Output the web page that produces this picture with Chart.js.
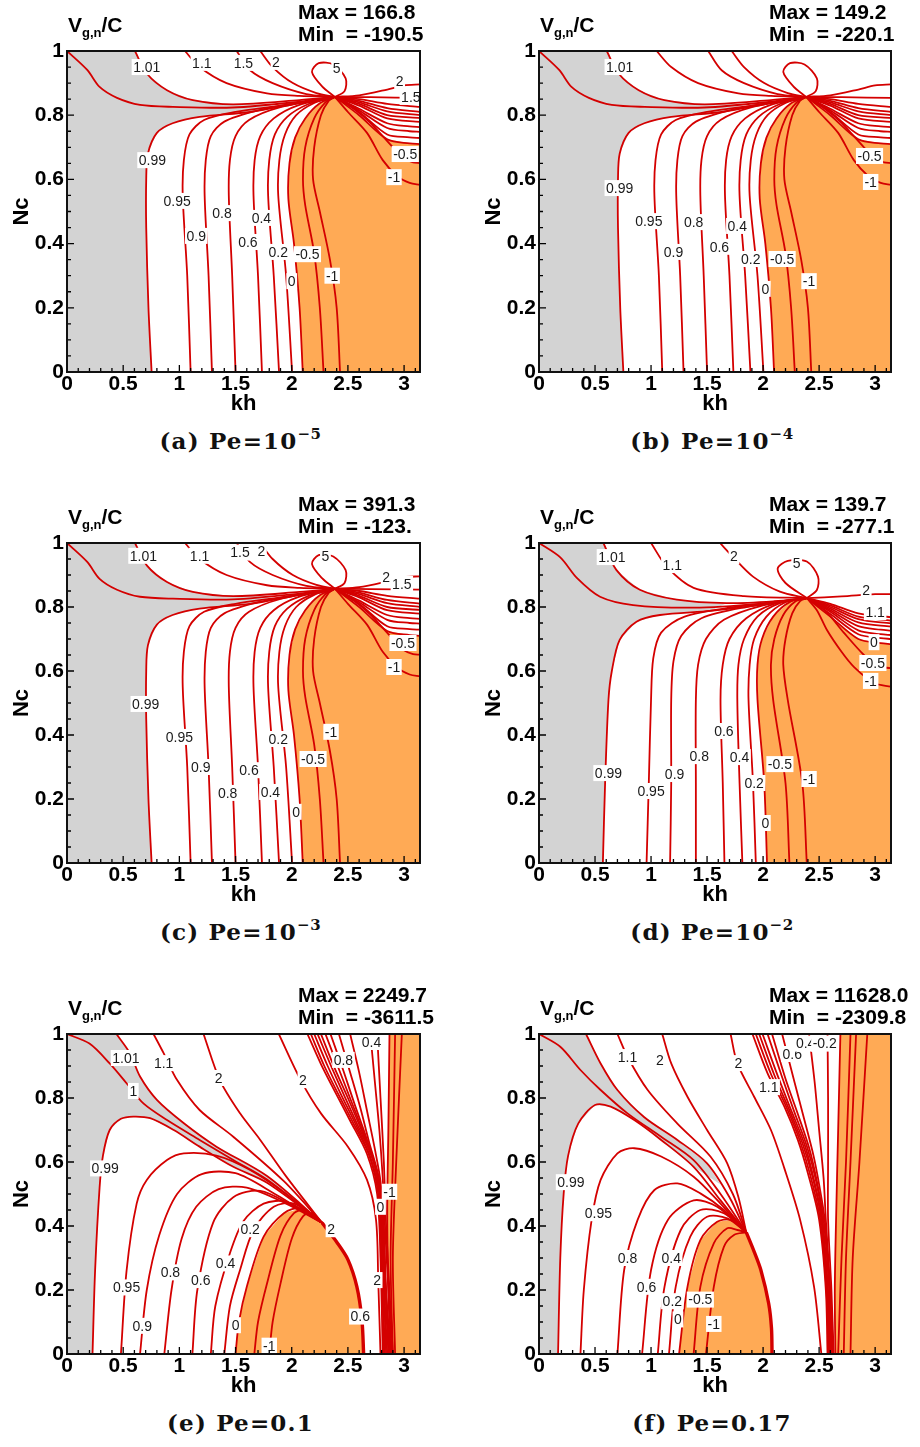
<!DOCTYPE html>
<html>
<head>
<meta charset="utf-8">
<script src="https://cdn.jsdelivr.net/npm/chart.js@4.4.1/dist/chart.umd.min.js"></script>
<style>
html, body { margin: 0; padding: 0; background: #fff; overflow: hidden; }
body { width: 920px; height: 1447px; position: relative; font-family: "Liberation Sans", Arial, sans-serif; }
canvas { position: absolute; }
.hdr { position: absolute; font-weight: bold; font-size: 21px; line-height: 22px; color: #000; white-space: pre; }
.hdr sub { font-size: 13px; vertical-align: -5px; line-height: 0; }
.cap { position: absolute; width: 320px; text-align: center; font-family: "DejaVu Serif", serif; font-weight: bold; font-size: 23px; line-height: 30px; letter-spacing: 1.2px; color: #111; }
.cap sup { font-size: 15px; vertical-align: 10px; line-height: 0; letter-spacing: 0.5px; }
</style>
</head>
<body>
<script>
// axis ticks
const xTicks = [0, 0.5, 1, 1.5, 2, 2.5, 3];
const yTicks = [0, 0.2, 0.4, 0.6, 0.8, 1];

// ---- panels a, b, c share the same contour layout (saddle near kh 2.385, Nc 0.857)
const linesABC = [
    [[0,1],[0.18,0.941],[0.29,0.888],[0.445,0.854],[0.65,0.832],[0.943,0.826],[1.477,0.824],[2.07,0.842],[2.385,0.857]],
    [[0.753,0],[0.725,0.2],[0.705,0.45],[0.705,0.6],[0.72,0.68],[0.80,0.745],[0.94,0.775],[1.18,0.795],[1.63,0.81],[2.07,0.838],[2.385,0.857]],
    [[0.605,1],[0.71,0.93],[0.89,0.878],[1.12,0.847],[1.48,0.834],[2.07,0.847],[2.385,0.857]],
    [[1.05,1],[1.18,0.95],[1.42,0.90],[1.78,0.868],[2.07,0.86],[2.385,0.857]],
    [[1.51,1],[1.63,0.94],[1.83,0.90],[2.13,0.866],[2.385,0.857]],
    [[1.72,1],[1.83,0.95],[2.01,0.90],[2.22,0.869],[2.385,0.857]],
    [[2.385,0.857],[2.27,0.89],[2.18,0.935],[2.24,0.962],[2.37,0.958],[2.48,0.915],[2.47,0.875],[2.385,0.857]],
    [[2.385,0.857],[2.6,0.862],[2.85,0.88],[3.0,0.893],[3.1416,0.896]],
    [[2.385,0.857],[2.7,0.856],[3.1416,0.854]],
    [[2.385,0.857],[2.6,0.85],[2.85,0.835],[3.1416,0.826]],
    [[2.385,0.857],[2.6,0.845],[2.85,0.822],[3.1416,0.81]],
    [[2.385,0.857],[2.6,0.84],[2.85,0.812],[3.1416,0.80]],
    [[2.385,0.857],[2.6,0.835],[2.85,0.80],[3.1416,0.791]],
    [[2.385,0.857],[2.6,0.83],[2.85,0.79],[3.1416,0.779]],
    [[2.385,0.857],[2.6,0.82],[2.85,0.775],[3.05,0.765],[3.1416,0.763]],
    [[2.385,0.857],[2.6,0.815],[2.85,0.76],[3.05,0.75],[3.1416,0.748]],
    [[2.385,0.857],[2.6,0.81],[2.85,0.74],[3.05,0.731],[3.1416,0.729]],
    [[2.385,0.857],[2.6,0.80],[2.85,0.725],[3.05,0.712],[3.1416,0.71]],
    [[2.385,0.857],[2.55,0.82],[2.70,0.776],[2.90,0.70],[3.0,0.665],[3.08,0.653],[3.1416,0.651]],
    [[2.385,0.857],[2.5,0.81],[2.67,0.745],[2.81,0.66],[2.94,0.61],[3.05,0.589],[3.1416,0.583]],
    [[1.10,0],[1.07,0.3],[1.03,0.55],[1.04,0.66],[1.09,0.74],[1.22,0.785],[1.5,0.81],[1.9,0.83],[2.385,0.857]],
    [[1.29,0],[1.26,0.3],[1.225,0.55],[1.235,0.66],[1.28,0.735],[1.4,0.78],[1.7,0.815],[2.05,0.838],[2.385,0.857]],
    [[1.50,0],[1.47,0.3],[1.44,0.55],[1.45,0.66],[1.5,0.735],[1.62,0.785],[1.9,0.825],[2.385,0.857]],
    [[1.735,0],[1.70,0.3],[1.66,0.55],[1.67,0.66],[1.72,0.735],[1.84,0.79],[2.05,0.83],[2.385,0.857]],
    [[1.887,0],[1.84,0.3],[1.79,0.55],[1.80,0.66],[1.85,0.74],[1.96,0.795],[2.15,0.835],[2.385,0.857]],
    [[2.003,0],[1.95,0.3],[1.88,0.55],[1.89,0.66],[1.94,0.74],[2.04,0.80],[2.2,0.838],[2.385,0.857]],
    [[2.098,0],[2.07,0.2],[2.02,0.4],[1.97,0.54],[1.98,0.65],[2.03,0.73],[2.12,0.79],[2.25,0.837],[2.385,0.857]],
    [[2.283,0],[2.25,0.2],[2.20,0.37],[2.12,0.52],[2.10,0.6],[2.12,0.7],[2.2,0.79],[2.3,0.84],[2.385,0.857]],
    [[2.43,0],[2.40,0.2],[2.34,0.35],[2.25,0.5],[2.19,0.6],[2.2,0.7],[2.26,0.8],[2.33,0.845],[2.385,0.857]]
];
const grayABC = [[0,0],[0,1],[0.605,1],[0.71,0.93],[0.89,0.878],[1.12,0.847],[1.48,0.834],[1.85,0.835],[1.63,0.81],[1.18,0.795],[0.94,0.775],[0.80,0.745],[0.72,0.68],[0.705,0.6],[0.705,0.45],[0.725,0.2],[0.753,0]];
const orangeABC = [[2.098,0],[2.07,0.2],[2.02,0.4],[1.97,0.54],[1.98,0.65],[2.03,0.73],[2.12,0.79],[2.25,0.837],[2.385,0.857],[2.6,0.80],[2.85,0.725],[3.05,0.712],[3.1416,0.71],[3.1416,0]];

const labelsA = [['1.01',0.71,0.95],['1.1',1.20,0.963],['1.5',1.57,0.963],['2',1.86,0.966],['5',2.40,0.947],['2',2.96,0.907],['1.5',3.06,0.857],['-0.5',3.01,0.679],['-1',2.91,0.607],['0.99',0.76,0.66],['0.95',0.98,0.533],['0.8',1.38,0.495],['0.4',1.73,0.48],['0.9',1.15,0.424],['0.6',1.61,0.405],['0.2',1.88,0.374],['-0.5',2.14,0.367],['0',2.0,0.283],['-1',2.36,0.30]];
const labelsB = [['1.01',0.72,0.95],['0.99',0.72,0.573],['0.95',0.98,0.47],['0.8',1.38,0.467],['0.4',1.77,0.455],['0.9',1.20,0.374],['0.6',1.61,0.39],['0.2',1.89,0.352],['-0.5',2.17,0.352],['0',2.02,0.259],['-1',2.41,0.283],['-0.5',2.95,0.673],['-1',2.96,0.592]];
const labelsC = [['1.01',0.68,0.96],['1.1',1.18,0.96],['1.5',1.54,0.97],['2',1.73,0.975],['5',2.30,0.96],['2',2.84,0.894],['1.5',2.98,0.872],['-0.5',2.99,0.6875],['-1',2.91,0.6125],['0.99',0.70,0.497],['0.95',1.0,0.394],['0.9',1.19,0.30],['0.6',1.62,0.29],['0.2',1.88,0.3875],['-1',2.35,0.41],['-0.5',2.19,0.325],['0.8',1.43,0.219],['0.4',1.81,0.222],['0',2.04,0.16]];

// ---- panel d (saddle near kh 2.39, Nc 0.828)
const linesD = [
    [[0,1],[0.19,0.955],[0.34,0.89],[0.545,0.832],[0.84,0.806],[1.38,0.798],[1.97,0.81],[2.39,0.828]],
    [[0.57,0],[0.59,0.25],[0.62,0.51],[0.65,0.6],[0.72,0.697],[0.87,0.754],[1.08,0.775],[1.53,0.788],[1.97,0.806],[2.39,0.828]],
    [[0.575,1],[0.69,0.916],[0.90,0.854],[1.23,0.823],[1.675,0.812],[2.1,0.818],[2.39,0.828]],
    [[1.0,1],[1.14,0.926],[1.38,0.86],[1.83,0.834],[2.39,0.828]],
    [[1.615,1],[1.73,0.957],[1.91,0.895],[2.15,0.848],[2.39,0.828]],
    [[2.39,0.828],[2.2,0.875],[2.13,0.92],[2.22,0.944],[2.39,0.942],[2.49,0.895],[2.48,0.853],[2.39,0.828]],
    [[2.39,0.828],[2.7,0.833],[3.0,0.84],[3.1416,0.84]],
    [[2.39,0.828],[2.6,0.81],[2.85,0.78],[3.1416,0.768]],
    [[2.39,0.828],[2.6,0.805],[2.85,0.77],[3.1416,0.757]],
    [[2.39,0.828],[2.6,0.80],[2.85,0.762],[3.1416,0.749]],
    [[2.39,0.828],[2.6,0.795],[2.85,0.752],[3.1416,0.739]],
    [[2.39,0.828],[2.6,0.79],[2.85,0.74],[3.05,0.729],[3.1416,0.726]],
    [[2.39,0.828],[2.6,0.785],[2.85,0.727],[3.05,0.715],[3.1416,0.7125]],
    [[2.39,0.828],[2.6,0.778],[2.85,0.715],[3.05,0.703],[3.1416,0.70]],
    [[2.39,0.828],[2.6,0.77],[2.85,0.70],[3.05,0.687],[3.1416,0.684]],
    [[2.39,0.828],[2.55,0.79],[2.72,0.72],[2.90,0.65],[3.02,0.615],[3.1416,0.609]],
    [[2.39,0.828],[2.48,0.79],[2.57,0.728],[2.70,0.66],[2.81,0.613],[2.99,0.5625],[3.1416,0.551]],
    [[0.96,0],[0.98,0.25],[1.0,0.51],[1.02,0.64],[1.09,0.72],[1.3,0.77],[1.75,0.80],[2.1,0.815],[2.39,0.828]],
    [[1.17,0],[1.18,0.25],[1.18,0.51],[1.2,0.63],[1.27,0.71],[1.45,0.765],[1.85,0.80],[2.39,0.828]],
    [[1.40,0],[1.40,0.25],[1.40,0.51],[1.42,0.62],[1.49,0.70],[1.65,0.76],[2.0,0.805],[2.39,0.828]],
    [[1.655,0],[1.64,0.25],[1.62,0.51],[1.64,0.62],[1.7,0.70],[1.85,0.765],[2.1,0.81],[2.39,0.828]],
    [[1.815,0],[1.79,0.25],[1.77,0.51],[1.78,0.62],[1.83,0.70],[1.95,0.77],[2.15,0.812],[2.39,0.828]],
    [[1.935,0],[1.91,0.25],[1.87,0.51],[1.88,0.62],[1.92,0.70],[2.03,0.77],[2.2,0.815],[2.39,0.828]],
    [[2.035,0],[2.01,0.25],[1.95,0.51],[1.95,0.62],[1.99,0.70],[2.09,0.77],[2.24,0.816],[2.39,0.828]],
    [[2.235,0],[2.2,0.25],[2.09,0.51],[2.07,0.62],[2.1,0.70],[2.18,0.775],[2.29,0.818],[2.39,0.828]],
    [[2.39,0],[2.35,0.25],[2.22,0.51],[2.18,0.62],[2.2,0.70],[2.26,0.78],[2.33,0.818],[2.39,0.828]]
];
const grayD = [[0,0],[0,1],[0.575,1],[0.69,0.916],[0.90,0.854],[1.23,0.823],[1.675,0.812],[1.53,0.788],[1.08,0.775],[0.87,0.754],[0.72,0.697],[0.65,0.6],[0.62,0.51],[0.59,0.25],[0.57,0]];
const orangeD = [[2.035,0],[2.01,0.25],[1.95,0.51],[1.95,0.62],[1.99,0.70],[2.09,0.77],[2.24,0.816],[2.39,0.828],[2.6,0.77],[2.85,0.70],[3.05,0.687],[3.1416,0.684],[3.1416,0]];
const labelsD = [['1.01',0.65,0.956],['1.1',1.19,0.931],['2',1.74,0.959],['5',2.30,0.9375],['2',2.92,0.853],['1.1',3.0,0.784],['0',2.99,0.69],['-0.5',2.98,0.625],['-1',2.96,0.569],['0.6',1.65,0.4125],['0.8',1.43,0.334],['0.4',1.79,0.331],['-0.5',2.15,0.309],['0.9',1.21,0.278],['-1',2.41,0.2625],['0.99',0.62,0.281],['0.2',1.92,0.25],['0.95',1.0,0.225],['0',2.02,0.125]];

// ---- panel e (convergence near kh 2.27, Nc 0.41)
const linesE = [
    [[0,1],[0.2,0.97],[0.38,0.908],[0.53,0.846],[0.68,0.783],[0.89,0.731],[1.18,0.669],[1.48,0.606],[1.78,0.545],[2.27,0.41]],
    [[0.44,1],[0.56,0.94],[0.65,0.867],[0.80,0.794],[1.04,0.721],[1.33,0.648],[1.78,0.556],[2.27,0.41]],
    [[0.227,0],[0.25,0.26],[0.29,0.52],[0.32,0.62],[0.38,0.70],[0.48,0.735],[0.59,0.742],[0.74,0.737],[0.95,0.70],[1.18,0.648],[1.48,0.585],[1.78,0.535],[2.27,0.41]],
    [[0.77,1],[0.86,0.94],[0.98,0.856],[1.18,0.7625],[1.48,0.679],[1.93,0.54],[2.27,0.41]],
    [[1.215,1],[1.36,0.856],[1.54,0.752],[1.72,0.669],[1.95,0.555],[2.27,0.41]],
    [[0.48,0],[0.53,0.26],[0.62,0.47],[0.71,0.544],[0.89,0.606],[1.04,0.627],[1.33,0.62],[1.63,0.575],[1.95,0.5],[2.27,0.41]],
    [[0.65,0],[0.71,0.2],[0.82,0.37],[0.98,0.5],[1.2,0.562],[1.5,0.565],[1.85,0.5],[2.27,0.41]],
    [[0.866,0],[0.93,0.2],[1.02,0.36],[1.15,0.46],[1.35,0.515],[1.6,0.52],[1.95,0.47],[2.27,0.41]],
    [[1.116,0],[1.16,0.2],[1.30,0.41],[1.48,0.49],[1.72,0.51],[2.0,0.465],[2.27,0.41]],
    [[1.28,0],[1.32,0.15],[1.45,0.315],[1.57,0.415],[1.75,0.47],[1.96,0.475],[2.27,0.41]],
    [[1.40,0],[1.45,0.15],[1.54,0.2625],[1.66,0.3875],[1.84,0.46],[2.02,0.47],[2.27,0.41]],
    [[1.50,0],[1.53,0.1],[1.60,0.21],[1.75,0.367],[1.93,0.44],[2.08,0.455],[2.27,0.41]],
    [[1.667,0],[1.70,0.1],[1.78,0.22],[1.90,0.37],[2.02,0.44],[2.12,0.45],[2.27,0.41]],
    [[1.80,0],[1.83,0.1],[1.90,0.22],[2.0,0.36],[2.1,0.43],[2.18,0.44],[2.27,0.41]],
    [[1.885,1],[2.08,0.856],[2.26,0.752],[2.50,0.648],[2.67,0.544],[2.75,0.42],[2.77,0.23],[2.79,0]],
    [[2.14,1],[2.26,0.906],[2.38,0.823],[2.52,0.729],[2.67,0.625],[2.76,0.5],[2.79,0.3],[2.81,0]],
    [[2.17,1],[2.29,0.9],[2.41,0.815],[2.55,0.72],[2.69,0.62],[2.77,0.5],[2.80,0.3],[2.82,0]],
    [[2.20,1],[2.32,0.9],[2.44,0.81],[2.58,0.71],[2.70,0.615],[2.78,0.5],[2.80,0.3],[2.83,0]],
    [[2.23,1],[2.35,0.9],[2.47,0.805],[2.60,0.705],[2.72,0.61],[2.785,0.5],[2.81,0.3],[2.84,0]],
    [[2.26,1],[2.38,0.895],[2.50,0.8],[2.62,0.70],[2.73,0.6],[2.79,0.5],[2.81,0.3],[2.85,0]],
    [[2.30,1],[2.42,0.89],[2.53,0.79],[2.64,0.69],[2.74,0.59],[2.795,0.5],[2.82,0.3],[2.86,0]],
    [[2.345,1],[2.46,0.885],[2.56,0.78],[2.66,0.68],[2.75,0.58],[2.80,0.5],[2.82,0.3],[2.87,0]],
    [[2.42,1],[2.52,0.88],[2.61,0.77],[2.69,0.66],[2.77,0.56],[2.81,0.45],[2.83,0.25],[2.87,0]],
    [[2.52,1],[2.60,0.88],[2.67,0.76],[2.74,0.64],[2.79,0.54],[2.82,0.4],[2.84,0.2],[2.88,0]],
    [[2.70,1],[2.74,0.85],[2.78,0.7],[2.81,0.55],[2.83,0.4],[2.86,0.2],[2.89,0]],
    [[2.76,1],[2.79,0.8],[2.82,0.6],[2.84,0.4],[2.87,0.2],[2.90,0]],
    [[2.87,1],[2.86,0.7],[2.85,0.45],[2.86,0.2],[2.88,0]],
    [[2.92,1],[2.90,0.6],[2.88,0.3],[2.90,0]],
    [[2.98,1],[2.93,0.6],[2.90,0.3],[2.92,0]]
];
const thickE = [[2.27,0.41],[2.40,0.35],[2.50,0.295],[2.58,0.21],[2.625,0.106],[2.64,0]];
const grayE = [[0,0],[0,1],[0.44,1],[0.56,0.94],[0.65,0.867],[0.80,0.794],[1.04,0.721],[1.33,0.648],[1.78,0.556],[2.0,0.49],[1.78,0.535],[1.48,0.585],[1.18,0.648],[0.95,0.70],[0.74,0.737],[0.59,0.742],[0.48,0.735],[0.38,0.70],[0.32,0.62],[0.29,0.52],[0.25,0.26],[0.227,0]];
const orangeE1 = [[1.50,0],[1.53,0.1],[1.60,0.21],[1.75,0.367],[1.93,0.44],[2.08,0.455],[2.2,0.43],[2.27,0.41],[2.40,0.35],[2.50,0.295],[2.58,0.21],[2.625,0.106],[2.64,0]];
const orangeE2 = [[2.87,1],[2.86,0.7],[2.85,0.45],[2.86,0.2],[2.88,0],[3.1416,0],[3.1416,1]];
const labelsE = [['1.01',0.524,0.925],['1.1',0.86,0.909],['2',1.35,0.8625],['2',2.10,0.856],['0.8',2.46,0.919],['0.4',2.71,0.975],['1',0.59,0.822],['0.99',0.34,0.58],['0.2',1.63,0.39],['2',2.35,0.39],['-1',2.87,0.507],['0',2.79,0.46],['0.4',1.41,0.283],['0.8',0.92,0.255],['0.6',1.19,0.231],['2',2.76,0.231],['0.95',0.53,0.208],['0.6',2.61,0.117],['0.9',0.67,0.088],['0',1.50,0.09],['-1',1.80,0.026]];

// ---- panel f (convergence near kh 1.85, Nc 0.38)
const linesF = [
    [[0,1],[0.19,0.96],[0.37,0.8875],[0.55,0.825],[0.79,0.752],[1.09,0.679],[1.38,0.606],[1.62,0.5],[1.85,0.38]],
    [[0.42,1],[0.55,0.908],[0.70,0.825],[0.94,0.74],[1.235,0.669],[1.50,0.596],[1.70,0.49],[1.85,0.38]],
    [[0.17,0],[0.19,0.3],[0.22,0.5],[0.26,0.62],[0.35,0.72],[0.50,0.778],[0.64,0.773],[0.85,0.731],[1.09,0.669],[1.38,0.585],[1.62,0.48],[1.85,0.38]],
    [[0.70,1],[0.79,0.929],[0.97,0.825],[1.235,0.72],[1.53,0.617],[1.73,0.5],[1.85,0.38]],
    [[1.10,1],[1.18,0.908],[1.325,0.804],[1.50,0.70],[1.68,0.596],[1.78,0.49],[1.85,0.38]],
    [[0.37,0],[0.40,0.2],[0.47,0.42],[0.55,0.544],[0.70,0.627],[0.85,0.643],[1.09,0.617],[1.38,0.554],[1.62,0.47],[1.85,0.38]],
    [[0.70,0],[0.76,0.2625],[0.88,0.419],[1.03,0.5125],[1.235,0.533],[1.44,0.502],[1.65,0.45],[1.85,0.38]],
    [[0.92,0],[1.0,0.2625],[1.15,0.419],[1.38,0.48],[1.59,0.46],[1.85,0.38]],
    [[1.06,0],[1.12,0.21],[1.265,0.3875],[1.44,0.45],[1.65,0.44],[1.85,0.38]],
    [[1.16,0],[1.22,0.21],[1.35,0.367],[1.50,0.429],[1.68,0.424],[1.85,0.38]],
    [[1.25,0],[1.325,0.21],[1.44,0.356],[1.59,0.413],[1.71,0.419],[1.85,0.38]],
    [[1.38,0],[1.44,0.21],[1.56,0.346],[1.68,0.393],[1.77,0.3875],[1.85,0.38]],
    [[1.49,0],[1.56,0.21],[1.65,0.335],[1.74,0.372],[1.85,0.38]],
    [[1.71,1],[1.77,0.908],[1.92,0.804],[2.07,0.70],[2.19,0.58],[2.33,0.42],[2.455,0.21],[2.52,0]],
    [[1.905,1],[2.04,0.877],[2.19,0.773],[2.31,0.669],[2.40,0.565],[2.50,0.42],[2.56,0.2],[2.575,0]],
    [[1.935,1],[2.07,0.875],[2.21,0.77],[2.33,0.665],[2.42,0.56],[2.51,0.42],[2.565,0.2],[2.585,0]],
    [[1.965,1],[2.10,0.872],[2.23,0.766],[2.35,0.66],[2.44,0.555],[2.52,0.42],[2.57,0.2],[2.595,0]],
    [[1.995,1],[2.13,0.87],[2.25,0.762],[2.37,0.655],[2.45,0.55],[2.525,0.42],[2.575,0.2],[2.605,0]],
    [[2.04,1],[2.17,0.865],[2.28,0.755],[2.39,0.65],[2.47,0.545],[2.53,0.42],[2.58,0.2],[2.61,0]],
    [[2.08,1],[2.20,0.86],[2.31,0.75],[2.41,0.645],[2.48,0.54],[2.54,0.42],[2.59,0.2],[2.615,0]],
    [[2.17,1],[2.28,0.85],[2.37,0.73],[2.45,0.62],[2.50,0.53],[2.55,0.42],[2.595,0.2],[2.62,0]],
    [[2.41,1],[2.46,0.85],[2.50,0.7],[2.54,0.55],[2.56,0.42],[2.60,0.2],[2.625,0]],
    [[2.575,1],[2.58,0.8],[2.58,0.6],[2.58,0.42],[2.61,0.2],[2.63,0]],
    [[2.69,1],[2.67,0.7],[2.65,0.4],[2.64,0.2],[2.645,0]],
    [[2.78,1],[2.74,0.6],[2.70,0.3],[2.67,0]],
    [[2.83,1],[2.78,0.6],[2.74,0.3],[2.72,0]],
    [[2.93,1],[2.86,0.6],[2.80,0.3],[2.78,0]]
];
const thickF = [[1.85,0.38],[1.92,0.32],[1.98,0.2625],[2.05,0.158],[2.075,0.08],[2.08,0]];
const grayF = [[0,0],[0,1],[0.42,1],[0.55,0.908],[0.70,0.825],[0.94,0.74],[1.235,0.669],[1.50,0.596],[1.62,0.53],[1.38,0.585],[1.09,0.669],[0.85,0.731],[0.64,0.773],[0.50,0.778],[0.35,0.72],[0.26,0.62],[0.22,0.5],[0.19,0.3],[0.17,0]];
const orangeF1 = [[1.25,0],[1.325,0.21],[1.44,0.356],[1.59,0.413],[1.71,0.419],[1.85,0.38],[1.92,0.32],[1.98,0.2625],[2.05,0.158],[2.075,0.08],[2.08,0]];
const orangeF2 = [[2.69,1],[2.67,0.7],[2.65,0.4],[2.64,0.2],[2.645,0],[3.1416,0],[3.1416,1]];
const labelsF = [['1.1',0.79,0.928],['2',1.08,0.919],['2',1.78,0.909],['1.1',2.05,0.834],['0.6',2.26,0.9375],['0.4',2.38,0.97],['-0.2',2.55,0.97],['0.99',0.285,0.537],['0.95',0.53,0.44],['0.8',0.79,0.30],['0.6',0.96,0.21],['0.4',1.18,0.30],['0.2',1.19,0.165],['-0.5',1.44,0.17],['0',1.24,0.108],['-1',1.56,0.094]];

const RED = '#d40000';
const GRAY = '#d3d3d3';
const ORANGE = '#ffaa55';
const FONT = '"Liberation Sans", Arial, sans-serif';

const panels = [
    { rect: [67, 51, 420, 372], lines: linesABC, thick: [], gray: grayABC, orange: [orangeABC], labels: labelsA, max: '166.8', min: '-190.5', cap: '(a) Pe=10<sup>−5</sup>' },
    { rect: [539, 51, 891, 372], lines: linesABC, thick: [], gray: grayABC, orange: [orangeABC], labels: labelsB, max: '149.2', min: '-220.1', cap: '(b) Pe=10<sup>−4</sup>' },
    { rect: [67, 543, 420, 863], lines: linesABC, thick: [], gray: grayABC, orange: [orangeABC], labels: labelsC, max: '391.3', min: '-123.', cap: '(c) Pe=10<sup>−3</sup>' },
    { rect: [539, 543, 891, 863], lines: linesD, thick: [], gray: grayD, orange: [orangeD], labels: labelsD, max: '139.7', min: '-277.1', cap: '(d) Pe=10<sup>−2</sup>' },
    { rect: [67, 1034, 420, 1354], lines: linesE, thick: [thickE], gray: grayE, orange: [orangeE1, orangeE2], labels: labelsE, max: '2249.7', min: '-3611.5', cap: '(e) Pe=0.1' },
    { rect: [539, 1034, 891, 1354], lines: linesF, thick: [thickF], gray: grayF, orange: [orangeF1, orangeF2], labels: labelsF, max: '11628.0', min: '-2309.8', cap: '(f) Pe=0.17' }
];

const contourDecor = {
    id: 'contourDecor',
    beforeDatasetsDraw(chart, args, opts) {
        const { ctx, chartArea: a, scales: { x, y } } = chart;
        ctx.save();
        ctx.beginPath(); ctx.rect(a.left, a.top, a.width, a.height); ctx.clip();
        opts.regions.forEach(r => {
            ctx.fillStyle = r.color;
            ctx.beginPath();
            r.pts.forEach(([kx, ky], i) => {
                const X = x.getPixelForValue(kx), Y = y.getPixelForValue(ky);
                if (i) ctx.lineTo(X, Y); else ctx.moveTo(X, Y);
            });
            ctx.closePath();
            ctx.fill();
        });
        ctx.restore();
    },
    afterDatasetsDraw(chart, args, opts) {
        const { ctx, chartArea: a, scales: { x, y } } = chart;
        ctx.save();
        ctx.beginPath(); ctx.rect(a.left, a.top, a.width, a.height); ctx.clip();
        ctx.font = '14px ' + FONT;
        ctx.textAlign = 'center';
        ctx.textBaseline = 'middle';
        opts.labels.forEach(([t, kx, ky]) => {
            const X = x.getPixelForValue(kx), Y = y.getPixelForValue(ky);
            const w = ctx.measureText(t).width + 3;
            ctx.fillStyle = '#fff';
            ctx.fillRect(X - w / 2, Y - 8, w, 16);
            ctx.fillStyle = '#1a1a1a';
            ctx.fillText(t, X, Y + 1);
        });
        ctx.restore();

        // inward ticks and frame
        ctx.save();
        ctx.strokeStyle = '#000';
        ctx.lineWidth = 1.3;
        ctx.beginPath();
        for (let k = 0; k <= 31; k++) {
            const X = x.getPixelForValue(k / 10);
            const len = k % 5 === 0 ? 7 : 4;
            ctx.moveTo(X, a.bottom); ctx.lineTo(X, a.bottom - len);
        }
        for (let k = 0; k <= 20; k++) {
            const Y = y.getPixelForValue(k / 20);
            const len = k % 4 === 0 ? 7 : 4;
            ctx.moveTo(a.left, Y); ctx.lineTo(a.left + len, Y);
        }
        ctx.stroke();
        ctx.lineWidth = 2;
        ctx.strokeStyle = '#111';
        ctx.strokeRect(a.left, a.top, a.width, a.height);
        ctx.restore();
    }
};

function buildPanel(p) {
    const [l, t, r, b] = p.rect;
    const cv = document.createElement('canvas');
    const W = (r - l) + 67 + 28, H = (b - t) + 51 + 48;
    cv.width = W; cv.height = H;
    cv.style.width = W + 'px'; cv.style.height = H + 'px';
    cv.style.left = (l - 67) + 'px'; cv.style.top = (t - 51) + 'px';
    document.body.appendChild(cv);

    const datasets = p.lines.map(pts => ({
        data: pts.map(([kx, ky]) => ({ x: kx, y: ky })),
        showLine: true, borderColor: RED, borderWidth: 1.8, pointRadius: 0, tension: 0.3, fill: false
    }));
    p.thick.forEach(pts => datasets.push({
        data: pts.map(([kx, ky]) => ({ x: kx, y: ky })),
        showLine: true, borderColor: RED, borderWidth: 3.4, pointRadius: 0, tension: 0.3, fill: false
    }));

    const regions = [{ color: GRAY, pts: p.gray }].concat(p.orange.map(o => ({ color: ORANGE, pts: o })));

    new Chart(cv, {
        type: 'scatter',
        data: { datasets },
        options: {
            responsive: false, animation: false, devicePixelRatio: 1,
            layout: { padding: { top: 51, right: 28, left: 0, bottom: 0 } },
            plugins: { legend: { display: false }, tooltip: { enabled: false }, contourDecor: { regions, labels: p.labels } },
            scales: {
                x: {
                    type: 'linear', min: 0, max: Math.PI,
                    afterBuildTicks: s => { s.ticks = xTicks.map(v => ({ value: v })); },
                    afterFit: s => { s.height = 48; },
                    grid: { display: false, drawTicks: false }, border: { display: false },
                    ticks: { color: '#000', padding: 1, font: { family: FONT, size: 21, weight: 'bold', lineHeight: 1.1 }, callback: v => String(v), maxRotation: 0, autoSkip: false },
                    title: { display: true, text: 'kh', color: '#000', padding: { top: 0, bottom: 3 }, font: { family: FONT, size: 22, weight: 'bold', lineHeight: 1.2 } }
                },
                y: {
                    type: 'linear', min: 0, max: 1,
                    afterBuildTicks: s => { s.ticks = yTicks.map(v => ({ value: v })); },
                    afterFit: s => { s.width = 67; },
                    grid: { display: false, drawTicks: false }, border: { display: false },
                    ticks: { color: '#000', padding: 3, font: { family: FONT, size: 21, weight: 'bold', lineHeight: 1.2 }, callback: v => String(v), autoSkip: false },
                    title: { display: true, text: 'Nc', color: '#000', padding: { top: 9, bottom: 0 }, font: { family: FONT, size: 22, weight: 'bold', lineHeight: 1.2 } }
                }
            }
        },
        plugins: [contourDecor]
    });

    const v = document.createElement('div');
    v.className = 'hdr';
    v.style.left = (l + 1) + 'px'; v.style.top = (t - 37) + 'px';
    v.innerHTML = 'V<sub>g,n</sub>/C';
    document.body.appendChild(v);

    const mx = document.createElement('div');
    mx.className = 'hdr';
    mx.style.left = (r - 122) + 'px'; mx.style.top = (t - 50) + 'px';
    mx.textContent = 'Max = ' + p.max + '\nMin  = ' + p.min;
    document.body.appendChild(mx);

    const cap = document.createElement('div');
    cap.className = 'cap';
    cap.style.left = ((l + r) / 2 - 3 - 160) + 'px'; cap.style.top = (b + 54) + 'px';
    cap.innerHTML = p.cap;
    document.body.appendChild(cap);
}

panels.forEach(buildPanel);
</script>
</body>
</html>
